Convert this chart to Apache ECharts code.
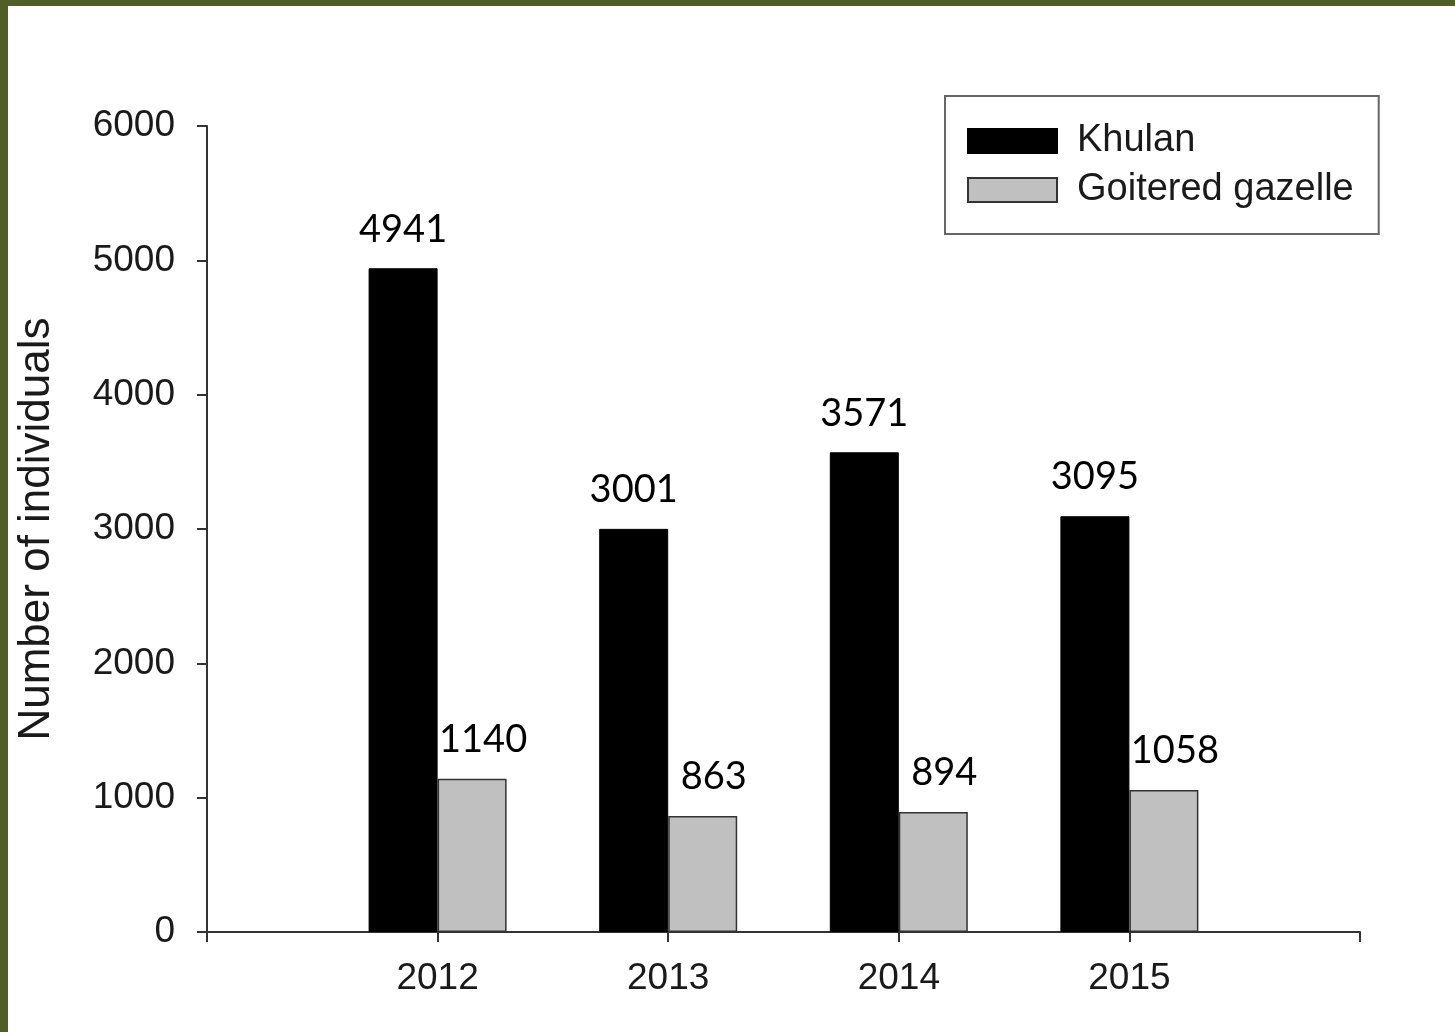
<!DOCTYPE html>
<html>
<head>
<meta charset="utf-8">
<script src="https://cdn.jsdelivr.net/npm/echarts@6/dist/echarts.min.js"></script>
<style>
  html, body { margin: 0; padding: 0; background: #ffffff; }
  #chart { position: absolute; left: 0; top: 0; width: 1455px; height: 1032px; }
  .bt { position: absolute; left: 0; top: 0; width: 1455px; height: 6px; background: #4f5f27; }
  .bl { position: absolute; left: 0; top: 0; width: 8px; height: 1032px; background: #4f5f27; }
</style>
</head>
<body>
<div id="chart"></div>
<div class="bt"></div>
<div class="bl"></div>
<script>
const categories = ['', '2012', '2013', '2014', '2015', ''];
const khulan = [null, 4941, 3001, 3571, 3095, null];
const gazelle = [null, 1140, 863, 894, 1058, null];
const seriesNames = ['Khulan', 'Goitered gazelle'];
const yTicks = [0, 1000, 2000, 3000, 4000, 5000, 6000];

const chart = echarts.init(document.getElementById('chart'), null, { renderer: 'canvas' });

const axisFont = { fontFamily: '"Liberation Sans", Arial, sans-serif', fontSize: 37, color: '#1a1a1a' };
function valLabel(dx) {
  return {
    show: true, position: 'top', distance: 20, offset: [dx, 0],
    fontFamily: 'Lato, "Open Sans", sans-serif', fontSize: 38, color: '#000'
  };
}

chart.setOption({
  animation: false,
  backgroundColor: '#ffffff',
  grid: { left: 207, right: 95, top: 126, bottom: 100, containLabel: false },
  legend: {
    orient: 'vertical',
    left: 945, top: 96,
    padding: [26, 25, 25, 22],
    itemGap: 11,
    itemWidth: 89, itemHeight: 24,
    borderColor: '#666', borderWidth: 2,
    backgroundColor: '#fff',
    textStyle: Object.assign({}, axisFont, { fontSize: 38, padding: [0, 0, 0, 15] }),
    icon: 'rect',
    data: seriesNames
  },
  xAxis: {
    type: 'category',
    data: categories,
    boundaryGap: false,
    axisLine: { lineStyle: { color: '#333', width: 2 } },
    axisTick: { show: true, length: 10, lineStyle: { color: '#333', width: 2 } },
    axisLabel: Object.assign({ margin: 28, interval: 0 }, axisFont),
    splitLine: { show: false }
  },
  yAxis: {
    type: 'value',
    min: yTicks[0], max: yTicks[yTicks.length - 1], interval: 1000,
    name: 'Number of individuals',
    nameLocation: 'middle',
    nameGap: 148,
    nameTextStyle: { fontFamily: '"Liberation Sans", Arial, sans-serif', fontSize: 44, color: '#1a1a1a' },
    axisLine: { show: true, lineStyle: { color: '#333', width: 2 } },
    axisTick: { show: true, length: 10, lineStyle: { color: '#333', width: 2 } },
    axisLabel: Object.assign({ margin: 32, formatter: function (v) { return String(v); } }, axisFont),
    splitLine: { show: false }
  },
  series: [
    {
      name: seriesNames[0], type: 'bar', data: khulan,
      barWidth: 69, barGap: '0%',
      itemStyle: { color: '#000000', borderColor: '#000', borderWidth: 1 },
      label: valLabel(0)
    },
    {
      name: seriesNames[1], type: 'bar', data: gazelle,
      barWidth: 69, barGap: '0%',
      itemStyle: { color: '#c0c0c0', borderColor: '#333', borderWidth: 1.5 },
      label: valLabel(11)
    }
  ]
});
</script>
</body>
</html>
